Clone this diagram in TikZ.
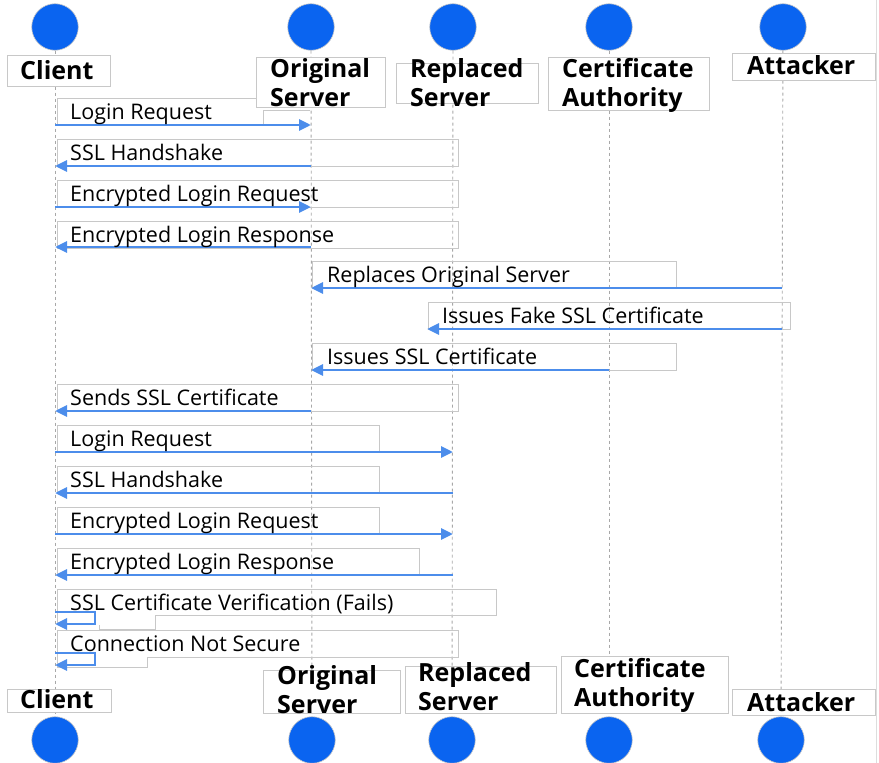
\documentclass[tikz,border=0pt]{standalone}
\usepackage{fontspec}
\setmainfont{Open Sans}
\usetikzlibrary{arrows.meta}
\definecolor{dotblue}{HTML}{0A64F0}
\definecolor{arrblue}{HTML}{4C8DEB}
\definecolor{boxgray}{HTML}{C8C8C8}
\definecolor{lifegray}{HTML}{A8A8A8}
\definecolor{edgegray}{HTML}{DDDDDD}
\tikzset{
  life/.style={draw=lifegray, line width=0.9pt, dash pattern=on 3pt off 3pt},
  hbox/.style={draw=boxgray, fill=white, line width=1pt},
  mbox/.style={draw=boxgray, line width=1pt},
  htext/.style={anchor=base west, inner sep=0pt, font=\fontsize{25}{29.5}\selectfont\bfseries},
  mtext/.style={anchor=base west, inner sep=0pt, font=\fontsize{21.5}{25}\selectfont},
  dot/.style={circle, fill=dotblue, draw=boxgray, line width=0.6pt, minimum size=46.6pt, inner sep=0pt},
  msgarr/.style={draw=arrblue, line width=2.9pt, line join=miter, -{Triangle[length=12pt,width=11pt]}},
}
\begin{document}
\begin{tikzpicture}[x=1pt,y=-1pt]
\useasboundingbox (0,0) rectangle (879,763);
% lifeline positions
\coordinate (lC) at (55,0);
\coordinate (lO) at (311,0);
\coordinate (lR) at (453,0);
\coordinate (lCA) at (609,0);
\coordinate (lA) at (782,0);
% circles
\node[dot] (cC)  at (55,27) {};
\node[dot] (cO)  at (311,27) {};
\node[dot] (cR)  at (453,27) {};
\node[dot] (cCA) at (609,27) {};
\node[dot] (cA)  at (783,27) {};
\node[dot] (bC)  at (55,740) {};
\node[dot] (bO)  at (312,740) {};
\node[dot] (bR)  at (452,740) {};
\node[dot] (bCA) at (609,740) {};
\node[dot] (bA)  at (781,740) {};
% lifelines
\draw[life] (cC) -- (bC);
\draw[life] (cO) -- (bO);
\draw[life] (cR) -- (bR);
\draw[life] (cCA) -- (bCA);
\draw[life] (cA) -- (bA);
% right border
\draw[edgegray, line width=1pt] (876,0) -- (876,763);
% message boxes
\draw[mbox] (57,125) -- (57,98) -- (256,98);
\draw[mbox] (263,125) -- (263,110) -- (310,110);
\draw[mbox] (57,139) rectangle (458,166);
\draw[mbox] (57,180) rectangle (458,207);
\draw[mbox] (57,221) rectangle (458,248);
\draw[mbox] (312,261) rectangle (676,288);
\draw[mbox] (428,302) rectangle (790,329);
\draw[mbox] (312,343) rectangle (676,370);
\draw[mbox] (57,384) rectangle (458,411);
\draw[mbox] (57,425) rectangle (379,452);
\draw[mbox] (57,466) rectangle (379,493);
\draw[mbox] (57,507) rectangle (379,534);
\draw[mbox] (57,548) rectangle (419,575);
\draw[mbox] (99,625) -- (99,629) -- (155,629) -- (155,615) -- (496,615) -- (496,589) -- (57,589) -- (57,625);
\draw[mbox] (57,667) -- (57,630) -- (458,630) -- (458,657) -- (147,657) -- (147,667) -- cycle;
% header boxes (top)
\draw[hbox] (7,55) rectangle (110,86);
\draw[hbox] (256,57) rectangle (385,107);
\draw[hbox] (396,63) rectangle (538,103);
\draw[hbox] (548,57) rectangle (709,110);
\draw[hbox] (732,53) rectangle (875,80);
% header boxes (bottom)
\draw[hbox] (7,689) rectangle (111,712);
\draw[hbox] (263,670) rectangle (400,713);
\draw[hbox] (405,666) rectangle (556,713);
\draw[hbox] (561,656) rectangle (728,713);
\draw[hbox] (732,689) rectangle (875,715);
% header texts
\node[htext] (tC)  at (20,79)  {Client};
\node[htext] (tO)  at (270,77) {\begin{tabular}[t]{@{}l@{}}Original\\Server\end{tabular}};
\node[htext] (tR)  at (410,77) {\begin{tabular}[t]{@{}l@{}}Replaced\\Server\end{tabular}};
\node[htext] (tCA) at (562,77) {\begin{tabular}[t]{@{}l@{}}Certificate\\Authority\end{tabular}};
\node[htext] (tA)  at (747,74) {Attacker};
\node[htext] (uC)  at (20,708)  {Client};
\node[htext] (uO)  at (277,684) {\begin{tabular}[t]{@{}l@{}}Original\\Server\end{tabular}};
\node[htext] (uR)  at (418,681) {\begin{tabular}[t]{@{}l@{}}Replaced\\Server\end{tabular}};
\node[htext] (uCA) at (574,677) {\begin{tabular}[t]{@{}l@{}}Certificate\\Authority\end{tabular}};
\node[htext] (uA)  at (747,711) {Attacker};
% arrows
\coordinate (fakeEnd) at (427,329);
\draw[msgarr] (lC |- 0,125) -- (lO |- 0,125);
\draw[msgarr] (lO |- 0,166) -- (lC |- 0,166);
\draw[msgarr] (lC |- 0,207) -- (lO |- 0,207);
\draw[msgarr] (lO |- 0,247) -- (lC |- 0,247);
\draw[msgarr] (lA |- 0,288) -- (lO |- 0,288);
\draw[msgarr] (lA |- 0,329) -- (fakeEnd);
\draw[msgarr] (lCA |- 0,370) -- (lO |- 0,370);
\draw[msgarr] (lO |- 0,411) -- (lC |- 0,411);
\draw[msgarr] (lC |- 0,452) -- (lR |- 0,452);
\draw[msgarr] (lR |- 0,493) -- (lC |- 0,493);
\draw[msgarr] (lC |- 0,534) -- (lR |- 0,534);
\draw[msgarr] (lR |- 0,575) -- (lC |- 0,575);
\draw[msgarr] (lC |- 0,612) -- (95,612) -- (95,624) -- (lC |- 0,624);
\draw[msgarr] (lC |- 0,653) -- (95,653) -- (95,665) -- (lC |- 0,665);
% message texts
\node[mtext] (m1)  at (70,119)  {Login Request};
\node[mtext] (m2)  at (70,160)  {SSL Handshake};
\node[mtext] (m3)  at (70,201)  {Encrypted Login Request};
\node[mtext] (m4)  at (70,242)  {Encrypted Login Response};
\node[mtext] (m5)  at (327,282) {Replaces Original Server};
\node[mtext] (m6)  at (442,323) {Issues Fake SSL Certificate};
\node[mtext] (m7)  at (327,364) {Issues SSL Certificate};
\node[mtext] (m8)  at (70,405)  {Sends SSL Certificate};
\node[mtext] (m9)  at (70,446)  {Login Request};
\node[mtext] (m10) at (70,487)  {SSL Handshake};
\node[mtext] (m11) at (70,528)  {Encrypted Login Request};
\node[mtext] (m12) at (70,569)  {Encrypted Login Response};
\node[mtext] (m13) at (70,610)  {SSL Certificate Verification (Fails)};
\node[mtext] (m14) at (70,651)  {Connection Not Secure};
\end{tikzpicture}
\end{document}
